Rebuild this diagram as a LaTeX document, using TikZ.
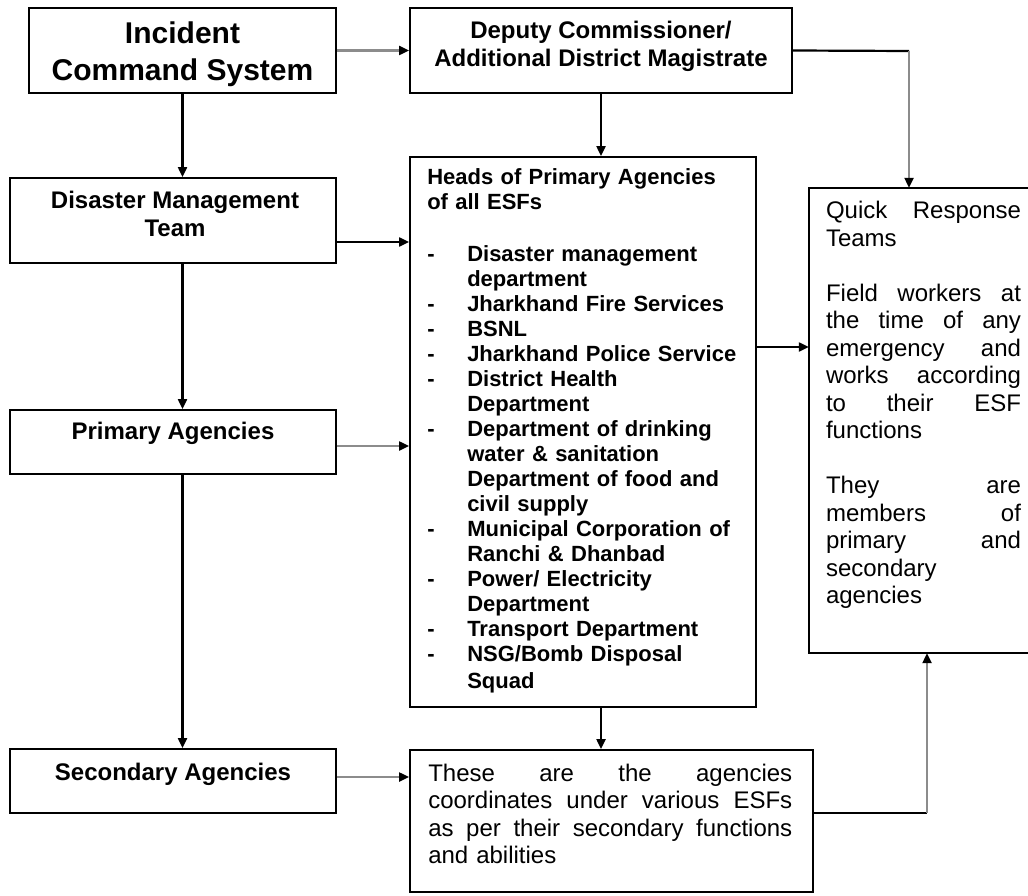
\documentclass[tikz,border=0pt]{standalone}
\usepackage{fontspec}
\setmainfont{Liberation Sans}
\usetikzlibrary{arrows.meta,positioning}
\newcommand{\fillline}[2]{\makebox[#1][s]{#2}}
\newcommand{\esfitem}[1]{\makebox[40pt][l]{-}#1}
\newcommand{\esfcont}[1]{\hspace*{40pt}#1}

\begin{document}
\begin{tikzpicture}[x=1pt,y=1pt,yscale=-1,
  box/.style={draw,line width=1.9pt,inner sep=0pt},
  lbl/.style={inner sep=0pt,align=center,font=\bfseries\fontsize{24}{28}\selectfont},
  txt/.style={inner sep=0pt,align=left,font=\fontsize{24}{27.5}\selectfont},
  link/.style={line width=2.2pt,-{Triangle[length=10pt,width=9pt,color=black]}},
  greylink/.style={link,draw=black!45},
  plain/.style={line width=2.2pt}]
\useasboundingbox (0,0) rectangle (1028,896);

%Boxes
\node [box,minimum width=307,minimum height=85] (ics) at (182.5,50.5) {};
\node [box,minimum width=382,minimum height=85] (dc) at (601,50.5) {};
\node [box,minimum width=326,minimum height=85] (dmt) at (173,220.5) {};
\node [box,minimum width=326,minimum height=64] (pa) at (173,442) {};
\node [box,minimum width=326,minimum height=64] (sa) at (173,781) {};
\node [box,minimum width=346,minimum height=550] (heads) at (583,432) {};
\node [box,minimum width=403,minimum height=142] (bottom) at (611.5,821) {};
% Quick Response box, open at the right edge
\node [inner sep=0pt,minimum width=219,minimum height=465] (qrt) at (918.5,420.5) {};
\draw [line width=1.9pt] (qrt.north east) -- (qrt.north west) -- (qrt.south west) -- (qrt.south east);

% Text Node
\node [lbl,font=\bfseries\fontsize{30}{37}\selectfont,below=15pt of ics.north] (icslbl) {Incident\\Command System};
% Text Node
\node [lbl,below=13.5pt of dc.north] (dclbl) {Deputy Commissioner/\\Additional District Magistrate};
% Text Node
\node [lbl,below=13.5pt of dmt.north,xshift=2pt] (dmtlbl) {Disaster Management\\Team};
% Text Node
\node [lbl,below=12.5pt of pa.north] (palbl) {Primary Agencies};
% Text Node
\node [lbl,below=15pt of sa.north] (salbl) {Secondary Agencies};
% Text Node
\node [lbl,align=left,text width=320pt,font=\bfseries\fontsize{22}{25}\selectfont,below right=12pt and 18pt of heads.north west] (headslbl) {Heads of Primary Agencies\\
of all ESFs\\[27pt]
\esfitem{Disaster management}\\
\esfcont{department}\\
\esfitem{Jharkhand Fire Services}\\
\esfitem{BSNL}\\
\esfitem{Jharkhand Police Service}\\
\esfitem{District Health}\\
\esfcont{Department}\\
\esfitem{Department of drinking}\\
\esfcont{water \& sanitation}\\
\esfcont{Department of food and}\\
\esfcont{civil supply}\\
\esfitem{Municipal Corporation of}\\
\esfcont{Ranchi \& Dhanbad}\\
\esfitem{Power/ Electricity}\\
\esfcont{Department}\\
\esfitem{Transport Department}\\
\esfitem{NSG/Bomb Disposal}\\[2pt]
\esfcont{Squad}};
% Text Node
\node [txt,text width=195pt,below right=13.5pt and 17pt of qrt.north west] (qrtlbl) {\fillline{195pt}{Quick\hfill Response}\\
Teams\\[27.5pt]
\fillline{195pt}{Field\hfill workers\hfill at}\\
\fillline{195pt}{the\hfill time\hfill of\hfill any}\\
\fillline{195pt}{emergency\hfill and}\\
\fillline{195pt}{works\hfill according}\\
\fillline{195pt}{to\hfill their\hfill ESF}\\
functions\\[27.5pt]
\fillline{195pt}{They\hfill are}\\
\fillline{195pt}{members\hfill of}\\
\fillline{195pt}{primary\hfill and}\\
secondary\\
agencies};
% Text Node
\node [txt,text width=364pt,below right=14.5pt and 19pt of bottom.north west] (bottomlbl) {\fillline{364pt}{These\hfill are\hfill the\hfill agencies}\\
\fillline{364pt}{coordinates\hfill under\hfill various\hfill ESFs}\\
\fillline{364pt}{as\hfill per\hfill their\hfill secondary\hfill functions}\\
and abilities};

%Connectors
\coordinate (dcq) at (909,51);
\coordinate (btq) at (927,813);
\draw [greylink] (ics.east) -- (ics.east -| dc.west);
\draw [plain] (dc.east) -- (dcq);
\draw [greylink] (dcq) -- (dcq |- qrt.north);
\draw [link] (dc.south) -- (dc.south |- heads.north);
\draw [link] (ics.south) -- (ics.south |- dmt.north);
\draw [link] ([yshift=21.5pt]dmt.east) -- ([yshift=21.5pt]dmt.east -| heads.west);
\draw [link] (dmt.south -| ics.south) -- (pa.north -| ics.south);
\draw [greylink] ([yshift=4pt]pa.east) -- ([yshift=4pt]pa.east -| heads.west);
\draw [link] (pa.south -| ics.south) -- (sa.north -| ics.south);
\draw [greylink] ([yshift=-4pt]sa.east) -- ([yshift=-4pt]sa.east -| bottom.west);
\draw [link] ([yshift=-85pt]heads.east) -- ([yshift=-85pt]heads.east -| qrt.west);
\draw [link] (heads.south -| dc.south) -- (bottom.north -| dc.south);
\draw [plain] ([yshift=-8pt]bottom.east) -- (btq);
\draw [greylink] (btq) -- (btq |- qrt.south);

\end{tikzpicture}
\end{document}
